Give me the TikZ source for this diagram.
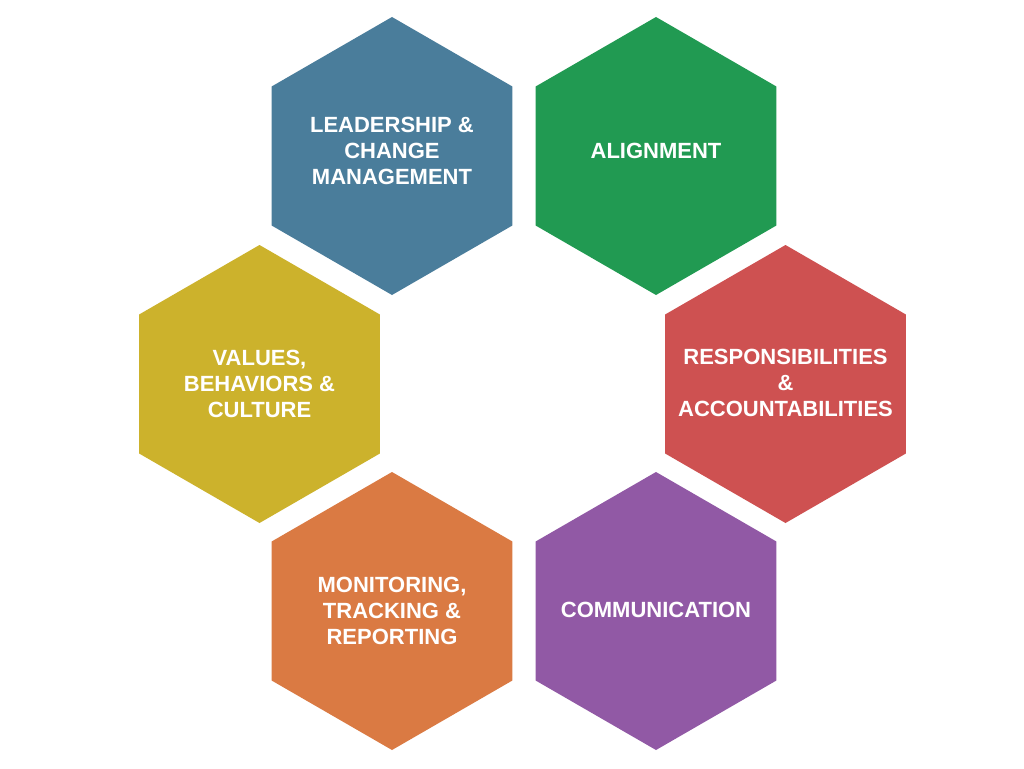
\documentclass[tikz,border=0pt]{standalone}
\usepackage{fontspec}
\setmainfont{Liberation Sans}
\usetikzlibrary{shapes.geometric}
\definecolor{hblue}{HTML}{4A7D9B}
\definecolor{hgreen}{HTML}{219A52}
\definecolor{hred}{HTML}{CE5151}
\definecolor{hyellow}{HTML}{CCB22C}
\definecolor{horange}{HTML}{DA7A43}
\definecolor{hpurple}{HTML}{9159A5}
\begin{document}
\begin{tikzpicture}[x=1pt,y=-1pt,
  hexa/.style={regular polygon, regular polygon sides=6, shape border rotate=30,
    minimum size=278pt, inner sep=0pt, outer sep=0pt, draw=none, fill=#1},
  lbl/.style={text=white, font=\fontsize{22}{26}\selectfont\bfseries, align=center, inner sep=0pt}]
\useasboundingbox[fill=white] (0,0) rectangle (1024,768);
\node[hexa=hblue] (lead) at (392,156) {};
\node[hexa=hgreen] (align) at (656,156) {};
\node[hexa=hyellow] (vals) at (259.5,384) {};
\node[hexa=hred] (resp) at (785.5,384) {};
\node[hexa=horange] (mon) at (392,611) {};
\node[hexa=hpurple] (comm) at (656,611) {};
\node[lbl] (leadt) at (392,151) {LEADERSHIP \&\\CHANGE\\MANAGEMENT};
\node[lbl] (alignt) at (656,151) {ALIGNMENT};
\node[lbl] (valst) at (259.5,384) {VALUES,\\BEHAVIORS \&\\CULTURE};
\node[lbl] (respt) at (785.5,383) {RESPONSIBILITIES\\\&\\ACCOUNTABILITIES};
\node[lbl] (mont) at (392,611) {MONITORING,\\TRACKING \&\\REPORTING};
\node[lbl] (commt) at (656,610) {COMMUNICATION};
\end{tikzpicture}
\end{document}
